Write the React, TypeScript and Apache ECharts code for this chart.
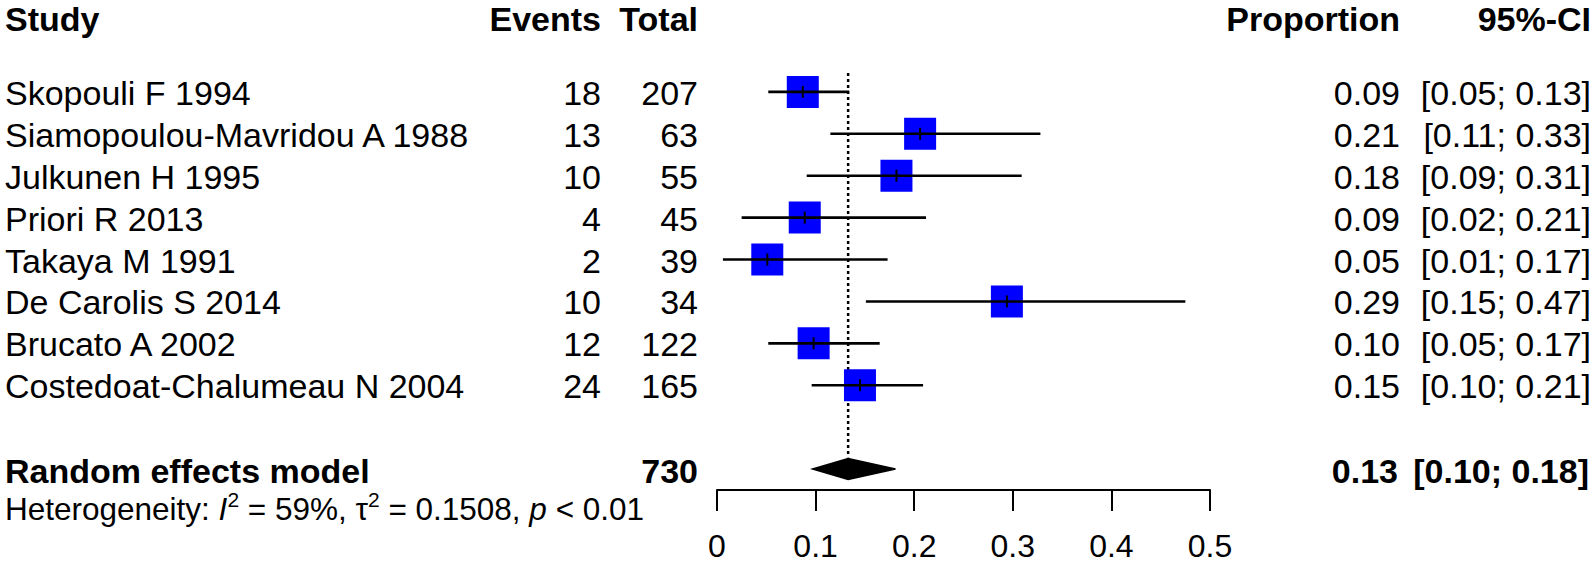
import React, { useEffect, useRef } from 'react';
import * as echarts from 'echarts';

const studies = [
  'Skopouli F 1994',
  'Siamopoulou-Mavridou A 1988',
  'Julkunen H 1995',
  'Priori R 2013',
  'Takaya M 1991',
  'De Carolis S 2014',
  'Brucato A 2002',
  'Costedoat-Chalumeau N 2004',
];
const events = [18, 13, 10, 4, 2, 10, 12, 24];
const totals = [207, 63, 55, 45, 39, 34, 122, 165];
const proportions = [0.087, 0.206, 0.182, 0.089, 0.051, 0.294, 0.098, 0.145];
const ciLower = [0.052, 0.115, 0.091, 0.025, 0.006, 0.151, 0.052, 0.096];
const ciUpper = [0.134, 0.328, 0.309, 0.212, 0.173, 0.475, 0.165, 0.209];
const proportionLabels = ['0.09', '0.21', '0.18', '0.09', '0.05', '0.29', '0.10', '0.15'];
const ciLabels = [
  '[0.05; 0.13]',
  '[0.11; 0.33]',
  '[0.09; 0.31]',
  '[0.02; 0.21]',
  '[0.01; 0.17]',
  '[0.15; 0.47]',
  '[0.05; 0.17]',
  '[0.10; 0.21]',
];
const pooledName = 'Random effects model';
const pooledTotal = 730;
const pooledEst = 0.133;
const pooledLower = 0.097;
const pooledUpper = 0.181;
const pooledPropLabel = '0.13';
const pooledCiLabel = '[0.10; 0.18]';
const headers = ['Study', 'Events', 'Total', 'Proportion', '95%-CI'];
const xMin = 0;
const xMax = 0.5;
const xInterval = 0.1;

const FONT = '"Liberation Sans", Arial, Helvetica, sans-serif';
const FS = 34;

// layout (pixels)
const COL_STUDY = 5;
const COL_EVENTS = 601;
const COL_TOTAL = 698;
const COL_PROP = 1400;
const COL_CI = 1591;
const POOLED_ROW = 10;
const HEADER_Y = 19;

function txt(text: string, x: number, y: number, align: string, bold = false, size = FS) {
  return {
    type: 'text',
    x,
    y,
    style: {
      text,
      fill: '#000',
      fontSize: size,
      fontFamily: FONT,
      fontWeight: bold ? 'bold' : 'normal',
      align,
      verticalAlign: 'middle',
      textAlign: align,
      textVerticalAlign: 'middle',
    },
  };
}

export default function App() {
  const ref = useRef<HTMLDivElement>(null);
  useEffect(() => {
    const chart = echarts.init(ref.current!, null, { renderer: 'svg' });
    const option: any = {
      animation: false,
      backgroundColor: '#fff',
      grid: { left: 717, right: 384, top: 50, height: 440, containLabel: false },
      xAxis: {
        type: 'value',
        position: 'bottom',
        min: xMin,
        max: xMax,
        interval: xInterval,
        splitLine: { show: false },
        axisLine: { show: true, onZero: false, lineStyle: { color: '#000', width: 2 } },
        axisTick: { show: true, length: 21, inside: false, lineStyle: { color: '#000', width: 2 } },
        axisLabel: { color: '#000', fontSize: 32, fontFamily: FONT, margin: 40 },
      },
      yAxis: { type: 'value', min: 0, max: 10.5, inverse: true, show: false },
      graphic: [
        txt(headers[0], COL_STUDY, HEADER_Y, 'left', true),
        txt(headers[1], COL_EVENTS, HEADER_Y, 'right', true),
        txt(headers[2], COL_TOTAL, HEADER_Y, 'right', true),
        txt(headers[3], COL_PROP, HEADER_Y, 'right', true),
        txt(headers[4], COL_CI, HEADER_Y, 'right', true),
        {
          type: 'text',
          x: COL_STUDY,
          y: 509,
          style: {
            text: 'Heterogeneity: {it|I}{sup|2} = 59%, τ{sup|2} = 0.1508, {it|p} < 0.01',
            fill: '#000',
            fontSize: 31.5,
            fontFamily: FONT,
            lineHeight: 40,
            align: 'left',
            verticalAlign: 'middle',
            textAlign: 'left',
            textVerticalAlign: 'middle',
            rich: {
              it: { fontStyle: 'italic', fontSize: 31.5, fontFamily: FONT, fill: '#000', lineHeight: 40 },
              sup: { fontSize: 21, fontFamily: FONT, fill: '#000', verticalAlign: 'top', lineHeight: 20 },
            },
          },
        },
      ],
      series: [
        {
          type: 'line',
          data: [
            [pooledEst, 0.55],
            [pooledEst, 9.72],
          ],
          symbol: 'none',
          lineStyle: { color: '#000', width: 2.5, type: [3, 3] },
          z: 1,
        },
        {
          type: 'custom',
          coordinateSystem: 'cartesian2d',
          z: 3,
          data: studies.map((_, i) => [ciLower[i], proportions[i], ciUpper[i], i + 1]),
          encode: { x: [0, 1, 2], y: 3 },
          renderItem: (params: any, api: any) => {
            const row = api.value(3);
            const lo = api.coord([api.value(0), row]);
            const est = api.coord([api.value(1), row]);
            const hi = api.coord([api.value(2), row]);
            const s = 32;
            return {
              type: 'group',
              children: [
                {
                  type: 'rect',
                  shape: { x: est[0] - s / 2, y: est[1] - s / 2, width: s, height: s },
                  style: { fill: '#0000FF' },
                },
                {
                  type: 'line',
                  shape: { x1: lo[0], y1: lo[1], x2: hi[0], y2: hi[1] },
                  style: { stroke: '#000', lineWidth: 2.6 },
                },
                {
                  type: 'line',
                  shape: { x1: est[0], y1: est[1] - 6, x2: est[0], y2: est[1] + 6 },
                  style: { stroke: '#000', lineWidth: 2 },
                },
              ],
            };
          },
        },
        {
          type: 'custom',
          coordinateSystem: 'cartesian2d',
          z: 3,
          data: [[pooledLower, pooledEst, pooledUpper, POOLED_ROW]],
          encode: { x: [0, 1, 2], y: 3 },
          renderItem: (params: any, api: any) => {
            const row = api.value(3);
            const lo = api.coord([api.value(0), row]);
            const est = api.coord([api.value(1), row]);
            const hi = api.coord([api.value(2), row]);
            const h = 10.5;
            return {
              type: 'polygon',
              shape: {
                points: [
                  [lo[0], lo[1]],
                  [est[0], est[1] - h],
                  [hi[0], hi[1]],
                  [est[0], est[1] + h],
                ],
              },
              style: { fill: '#000', stroke: '#000', lineWidth: 1.5 },
            };
          },
        },
        {
          type: 'custom',
          coordinateSystem: 'cartesian2d',
          z: 4,
          data: studies.map((_, i) => [0, i + 1]),
          encode: { x: 0, y: 1 },
          renderItem: (params: any, api: any) => {
            const i = params.dataIndex;
            const y = api.coord([0, api.value(1)])[1] + 1;
            return {
              type: 'group',
              children: [
                txt(studies[i], COL_STUDY, y, 'left'),
                txt(String(events[i]), COL_EVENTS, y, 'right'),
                txt(String(totals[i]), COL_TOTAL, y, 'right'),
                txt(proportionLabels[i], COL_PROP, y, 'right'),
                txt(ciLabels[i], COL_CI, y, 'right'),
              ],
            };
          },
        },
        {
          type: 'custom',
          coordinateSystem: 'cartesian2d',
          z: 4,
          data: [[0, POOLED_ROW]],
          encode: { x: 0, y: 1 },
          renderItem: (params: any, api: any) => {
            const y = api.coord([0, api.value(1)])[1] + 2;
            return {
              type: 'group',
              children: [
                txt(pooledName, COL_STUDY, y, 'left', true),
                txt(String(pooledTotal), COL_TOTAL, y, 'right', true),
                txt(pooledPropLabel, 1398, y, 'right', true),
                txt(pooledCiLabel, 1589, y, 'right', true),
              ],
            };
          },
        },
      ],
    };
    chart.setOption(option);
    return () => chart.dispose();
  }, []);
  return (
    <div
      ref={ref}
      style={{ position: 'fixed', left: 0, top: 0, width: 1594, height: 566, background: '#fff' }}
    />
  );
}
